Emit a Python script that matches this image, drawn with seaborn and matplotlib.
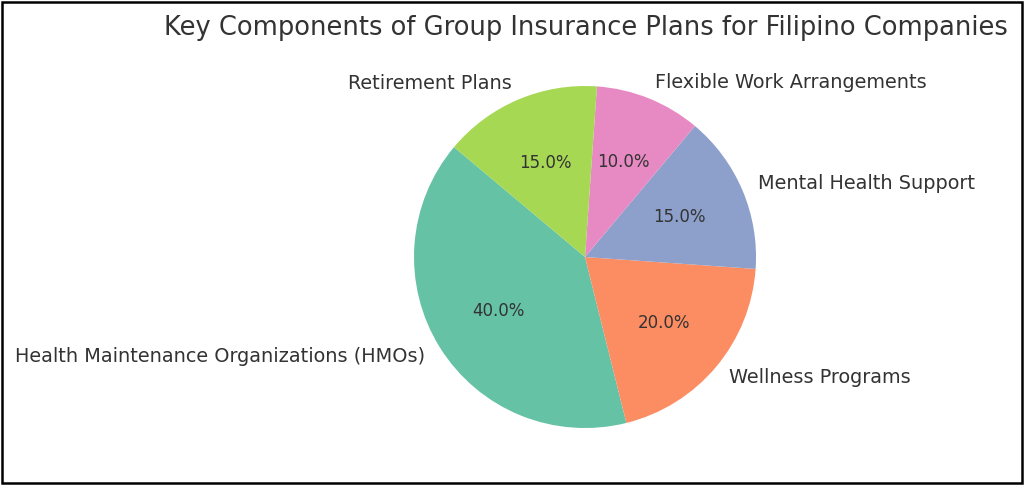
import matplotlib
matplotlib.use("Agg")
import matplotlib.pyplot as plt
import seaborn as sns
from matplotlib.patches import Rectangle

componentes = ['Health Maintenance Organizations (HMOs)', 'Wellness Programs',
               'Mental Health Support', 'Flexible Work Arrangements', 'Retirement Plans']
percentuais = [40, 20, 15, 10, 15]

sns.set_theme(style='white')
cores = sns.color_palette('Set2', len(componentes))

fig = plt.figure(figsize=(10.24, 4.87), dpi=100)
ax = fig.add_axes([0.4043, 0.1211, 0.334, 0.7023])
ax.pie(percentuais, labels=componentes, colors=cores, autopct='%1.1f%%', startangle=140,
       wedgeprops={'linewidth': 0},
       textprops={'fontsize': 13.9, 'color': '#333333'})
ax.set_xlim(-1, 1)
ax.set_ylim(-1, 1)
ax.set_aspect('equal')
for t in ax.texts:
    if t.get_text().endswith('%'):
        t.set_fontsize(12)

fig.text(586 / 1024, 1 - 28 / 487, 'Key Components of Group Insurance Plans for Filipino Companies',
         ha='center', va='center', fontsize=18.5, color='#333333')

# moldura preta em volta da figura
fig.patches.append(Rectangle((2 / 1024, 4 / 487), 1020 / 1024, 481 / 487, transform=fig.transFigure,
                             fill=False, edgecolor='black', linewidth=1.8))

fig.savefig('out.png', dpi=100)
